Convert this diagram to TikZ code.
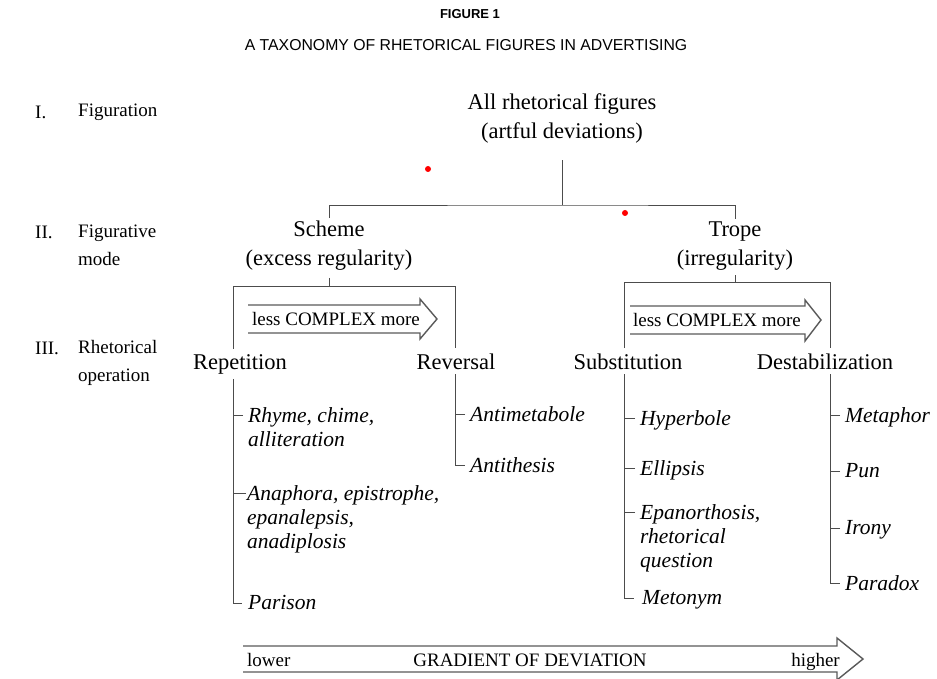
\documentclass[tikz,border=0pt]{standalone}
\usepackage{fontspec}
\setmainfont{Liberation Serif}
\newfontfamily\headfont{Liberation Sans}
\usetikzlibrary{positioning,calc}
\tikzset{
  lvl/.style={inner sep=0pt,anchor=west,align=left,font=\fontsize{19}{28}\selectfont},
  cat/.style={inner sep=0pt,align=center,font=\fontsize{22.5}{29}\selectfont},
  op/.style={inner sep=0pt,anchor=base,font=\fontsize{22.5}{27}\selectfont},
  item/.style={inner sep=0pt,anchor=north west,align=left,
               font=\fontsize{21.5}{24}\selectfont\itshape},
  ln/.style={line width=0.9pt,draw=black!70},
  fat/.style={line width=1.4pt,draw=black!65,line join=miter},
  arrtxt/.style={inner sep=0pt,anchor=base,font=\fontsize{19}{22}\selectfont},
  dot/.style={circle,fill=red,inner sep=0pt,minimum size=6pt},
}

\begin{document}
\begin{tikzpicture}[x=1pt,y=-1pt]
  \useasboundingbox (0,0) rectangle (937,679);

  %% Title
  \node[font=\fontsize{13}{15}\headfont\bfseries] (fig) at (470,14) {FIGURE 1};
  \node[font=\fontsize{15.8}{18}\headfont]        (ttl) at (466,45)
       {A TAXONOMY OF RHETORICAL FIGURES IN ADVERTISING};

  %% Levels
  \node[lvl] (n1) at (35,112)   {I.};
  \node[lvl] (l1) at (78,112)   {Figuration};
  \node[lvl] (n2) at (35,232)   {II.};
  \node[lvl] (l2) at (78,245.5) {Figurative\\mode};
  \node[lvl] (n3) at (35,348)   {III.};
  \node[lvl] (l3) at (78,362.5) {Rhetorical\\operation};

  %% Tree
  \node[cat] (all)    at (562,118) {All rhetorical figures\\(artful deviations)};
  \node[cat] (scheme) at (329,246) {Scheme\\(excess regularity)};
  \node[cat] (trope)  at (735,246) {Trope\\(irregularity)};
  \node[op]  (rep)    at (240,369) {Repetition};
  \node[op]  (rev)    at (456,369) {Reversal};
  \node[op]  (sub)    at (628,369) {Substitution};
  \node[op]  (dst)    at (825,369) {Destabilization};

  \coordinate (rb) at (563,205);
  \coordinate (c1) at (233,286);
  \coordinate (c2) at (455,286);
  \coordinate (c3) at (624,282);
  \coordinate (c4) at (830,282);

  %% Items
  \node[item] (rhyme)   at (248,407) {Rhyme, chime,\\alliteration};
  \node[item] (anaph)   at (247,485) {Anaphora, epistrophe,\\epanalepsis,\\anadiplosis};
  \node[item] (parison) at (248,595) {Parison};
  \node[item] (antimet) at (470,406) {Antimetabole};
  \node[item] (antith)  at (470,457) {Antithesis};
  \node[item] (hyper)   at (640,410) {Hyperbole};
  \node[item] (ellip)   at (640,460) {Ellipsis};
  \node[item] (epan)    at (640,504) {Epanorthosis,\\rhetorical\\question};
  \node[item] (meton)   at (642,590) {Metonym};
  \node[item] (metaph)  at (845,407) {Metaphor};
  \node[item] (pun)     at (845,463) {Pun};
  \node[item] (irony)   at (845,520) {Irony};
  \node[item] (parad)   at (845,575) {Paradox};

  %% Edges
  \draw[ln,shorten <=17pt] (all.south) -- (all.south |- rb);
  \draw[ln] ($(scheme.north)+(0,-3)$) |- (rb) -| ($(trope.north)+(0,-3)$);
  \draw[ln,shorten <=7pt] (scheme.south) -- (scheme.south |- c1);
  \draw[ln,shorten <=5pt] (trope.south) -- (trope.south |- c3);
  \draw[ln] ($(rep.north -| c1)+(0,-5)$) -- (c1) -- (c2) -- ($(rev.north -| c2)+(0,-5)$);
  \draw[ln] ($(sub.north -| c3)+(0,-5)$) -- (c3) -- (c4) -- ($(dst.north -| c4)+(0,-5)$);

  \draw[ln] ($(rep.south -| c1)+(0,5)$) |- ($(parison.north west)+(-6,8)$);
  \draw[ln] ($(rhyme.north west)+(-5,8)$) -- ++(-10,0);
  \draw[ln] ($(anaph.north west)+(-1,8)$) -- ++(-13,0);
  \draw[ln] ($(rev.south -| c2)+(0,5)$) |- ($(antith.north west)+(-5,8)$);
  \draw[ln] ($(antimet.north west)+(-5,8)$) -- ++(-10,0);
  \draw[ln] ($(sub.south -| c3)+(0,5)$) |- ($(meton.north west)+(-8,8)$);
  \draw[ln] ($(hyper.north west)+(-5,8)$) -- ++(-11,0);
  \draw[ln] ($(ellip.north west)+(-5,8)$) -- ++(-11,0);
  \draw[ln] ($(epan.north west)+(-5,8)$) -- ++(-11,0);
  \draw[ln] ($(dst.south -| c4)+(0,5)$) |- ($(parad.north west)+(-5,8)$);
  \draw[ln] ($(metaph.north west)+(-5,8)$) -- ++(-10,0);
  \draw[ln] ($(pun.north west)+(-5,8)$) -- ++(-10,0);
  \draw[ln] ($(irony.north west)+(-5,8)$) -- ++(-10,0);

  %% Complexity arrows
  \draw[fat] (248,305) -- (420,305) -- (420,299) -- (437,319)
             -- (420,339) -- (420,333) -- (248,333);
  \node[arrtxt] (cplx1) at (336,325) {less COMPLEX more};
  \draw[fat] (630,306) -- (805,306) -- (805,300) -- (821,320)
             -- (805,341) -- (805,334) -- (630,334);
  \node[arrtxt] (cplx2) at (717,326) {less COMPLEX more};

  %% Gradient
  \draw[fat] (243,646) -- (837,646) -- (837,638) -- (863,659)
             -- (837,680) -- (837,672) -- (243,672);
  \node[arrtxt,anchor=base west] (lower)  at (247,666) {lower};
  \node[arrtxt]                  (grad)   at (530,666) {GRADIENT OF DEVIATION};
  \node[arrtxt,anchor=base east] (higher) at (840,666) {higher};

  \node[dot] (d1) at (428,169) {};
  \node[dot] (d2) at (625,213) {};
\end{tikzpicture}
\end{document}
